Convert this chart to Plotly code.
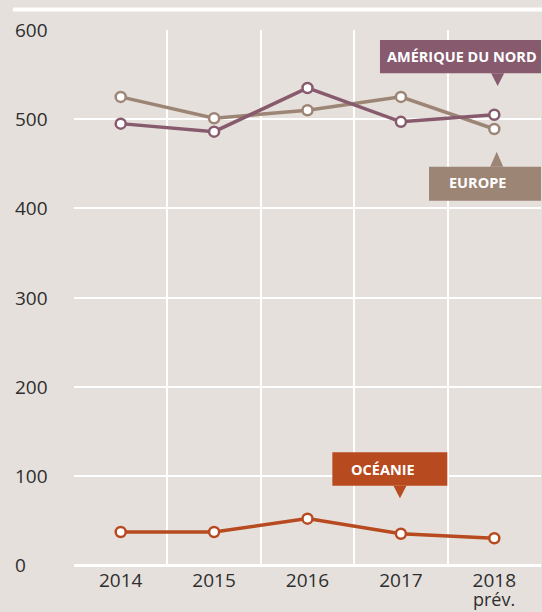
import plotly.graph_objects as go

years = ["2014", "2015", "2016", "2017", "2018"]
year_labels = ["2014", "2015", "2016", "2017", "2018"]
forecast_note = "prév."
europe = [525, 501, 510, 525, 489]
amerique_nord = [495, 486, 535, 497, 505]
oceanie = [37, 37, 52, 35, 30]
y_ticks = [0, 100, 200, 300, 400, 500, 600]

BG = "#e5e0dc"
C_EU = "#9d8576"
C_AN = "#875a6e"
C_OC = "#b84a1f"
TXT = "#2e2e2e"
FONT = "Open Sans"

fig = go.Figure()
for vals, col in [(europe, C_EU), (amerique_nord, C_AN), (oceanie, C_OC)]:
    fig.add_trace(go.Scatter(
        x=years, y=vals, mode="lines+markers",
        line=dict(color=col, width=3.5),
        marker=dict(size=10, color="white", line=dict(color=col, width=2.5)),
        showlegend=False, hoverinfo="skip", cliponaxis=False,
    ))

shapes = []
annotations = []

# decorative top rule
shapes.append(dict(type="line", xref="paper", yref="paper",
                   x0=-0.1306, x1=1.01, y0=1.0383, y1=1.0383,
                   line=dict(color="white", width=4)))

def label(x0, x1, y0, y1, tip_x, tip_y, base_y, color, text, tx, ty):
    shapes.append(dict(type="rect", xref="x", yref="y", x0=x0, x1=x1, y0=y0, y1=y1,
                       fillcolor=color, line=dict(width=0), layer="above"))
    hw = 0.07
    shapes.append(dict(type="path", xref="x", yref="y",
                       path=f"M {tip_x-hw} {base_y} L {tip_x+hw} {base_y} L {tip_x} {tip_y} Z",
                       fillcolor=color, line=dict(width=0), layer="above"))
    annotations.append(dict(x=tx, y=ty, xref="x", yref="y", text=f"<b>{text}</b>",
                            showarrow=False, xanchor="left", yanchor="middle",
                            font=dict(family=FONT, size=14.5, color="white")))

label(2.776, 4.6, 551.4, 588.8, 4.036, 537.2, 551.4, C_AN, "AMÉRIQUE DU NORD", 2.835, 570.5)
label(3.301, 4.6, 408.6, 446.7, 4.026, 463.5, 446.7, C_EU, "EUROPE", 3.49, 428.5)
label(2.266, 3.497, 88.9, 126.4, 2.990, 74.8, 88.9, C_OC, "OCÉANIE", 2.44, 107.5)

for t in y_ticks:
    annotations.append(dict(x=-0.1306, y=t, xref="paper", yref="y", text=str(t),
                            showarrow=False, xanchor="left", yanchor="middle",
                            font=dict(family=FONT, size=19, color=TXT)))

# note under the last (forecast) year, centred on its category slot
last_slot_centre = (len(years) - 0.5) / len(years)
annotations.append(dict(x=last_slot_centre, y=-0.0375, xref="paper", yref="paper",
                        text=forecast_note, showarrow=False,
                        xanchor="center", yanchor="top",
                        font=dict(family=FONT, size=18, color=TXT)))

fig.update_layout(
    width=542, height=612,
    margin=dict(l=74, r=1, t=30, b=47),
    paper_bgcolor=BG, plot_bgcolor=BG,
    font=dict(family=FONT, color=TXT),
    shapes=shapes, annotations=annotations,
    xaxis=dict(type="category", range=[-0.5, 4.5], tickson="boundaries",
               tickvals=years, ticktext=year_labels, automargin=False,
               showgrid=True, gridcolor="white", gridwidth=2,
               ticks="", showline=False, zeroline=False, ticklabelstandoff=2,
               tickfont=dict(family=FONT, size=19, color=TXT)),
    yaxis=dict(range=[0, 600], tickvals=y_ticks, showticklabels=False, automargin=False,
               showgrid=True, gridcolor="white", gridwidth=2,
               zeroline=True, zerolinecolor="white", zerolinewidth=3,
               ticks="", showline=False, fixedrange=True),
)

post = ("document.body.style.margin='0';document.body.style.padding='0';"
        "document.body.style.background='%s';document.body.style.overflow='hidden';" % BG)
fig.write_html("out.html", post_script=post, config={"displayModeBar": False, "staticPlot": True})
